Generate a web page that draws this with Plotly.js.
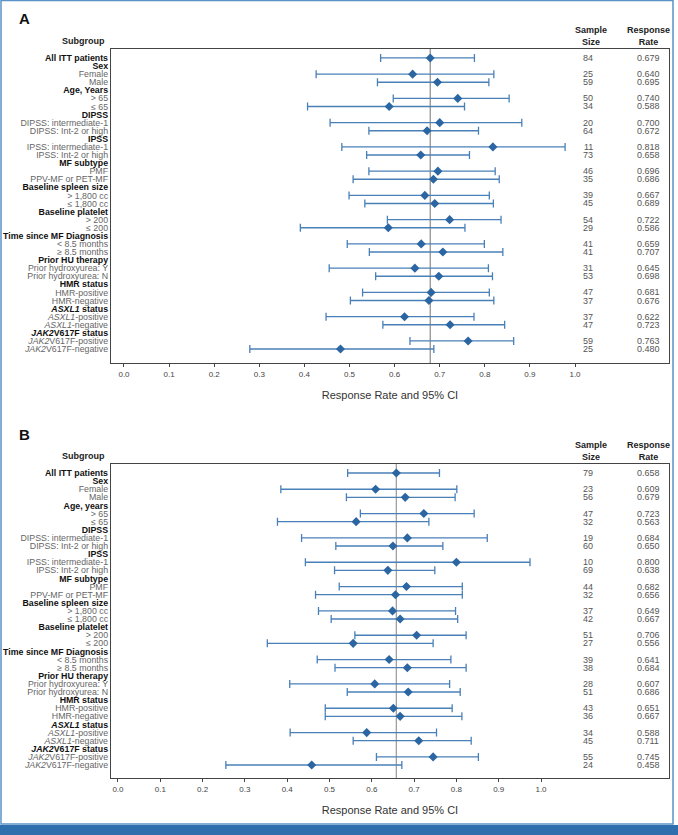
<!DOCTYPE html>
<html>
<head>
<meta charset="utf-8">
<script src="https://cdn.plot.ly/plotly-3.0.1.min.js"></script>
<style>html,body{margin:0;padding:0;background:#fff;}#chart{width:678px;height:835px;}</style>
</head>
<body>
<div id="chart"></div>
<script>
// ---- Data ----
const labelsA = ["All ITT patients","Sex","Female","Male","Age, Years","> 65","≤ 65","DIPSS","DIPSS: intermediate-1","DIPSS: Int-2 or high","IPSS","IPSS: intermediate-1","IPSS: Int-2 or high","MF subtype","PMF","PPV-MF or PET-MF","Baseline spleen size","> 1,800 cc","≤ 1,800 cc","Baseline platelet","> 200","≤ 200","Time since MF Diagnosis","< 8.5 months","≥ 8.5 months","Prior HU therapy","Prior hydroxyurea: Y","Prior hydroxyurea: N","HMR status","HMR-positive","HMR-negative","<i>ASXL1</i> status","<i>ASXL1</i>-positive","<i>ASXL1</i>-negative","<i>JAK2</i>V617F status","<i>JAK2</i>V617F-positive","<i>JAK2</i>V617F-negative"];
const labelsB = ["All ITT patients","Sex","Female","Male","Age, years","> 65","≤ 65","DIPSS","DIPSS: intermediate-1","DIPSS: Int-2 or high","IPSS","IPSS: intermediate-1","IPSS: Int-2 or high","MF subtype","PMF","PPV-MF or PET-MF","Baseline spleen size","> 1,800 cc","≤ 1,800 cc","Baseline platelet","> 200","≤ 200","Time since MF Diagnosis","< 8.5 months","≥ 8.5 months","Prior HU therapy","Prior hydroxyurea: Y","Prior hydroxyurea: N","HMR status","HMR-positive","HMR-negative","<i>ASXL1</i> status","<i>ASXL1</i>-positive","<i>ASXL1</i>-negative","<i>JAK2</i>V617F status","<i>JAK2</i>V617F-positive","<i>JAK2</i>V617F-negative"];
const isHeader = [1,1,0,0,1,0,0,1,0,0,1,0,0,1,0,0,1,0,0,1,0,0,1,0,0,1,0,0,1,0,0,1,0,0,1,0,0];

const rateA  = [0.679,null,0.640,0.695,null,0.740,0.588,null,0.700,0.672,null,0.818,0.658,null,0.696,0.686,null,0.667,0.689,null,0.722,0.586,null,0.659,0.707,null,0.645,0.698,null,0.681,0.676,null,0.622,0.723,null,0.763,0.480];
const nA     = [84,null,25,59,null,50,34,null,20,64,null,11,73,null,46,35,null,39,45,null,54,29,null,41,41,null,31,53,null,47,37,null,37,47,null,59,25];
const lowerA = [0.569,null,0.426,0.562,null,0.597,0.407,null,0.457,0.543,null,0.483,0.538,null,0.543,0.508,null,0.499,0.534,null,0.584,0.391,null,0.495,0.544,null,0.455,0.558,null,0.529,0.502,null,0.448,0.574,null,0.634,0.279];
const upperA = [0.777,null,0.820,0.809,null,0.854,0.755,null,0.882,0.786,null,0.978,0.766,null,0.823,0.832,null,0.810,0.819,null,0.836,0.756,null,0.799,0.840,null,0.808,0.817,null,0.810,0.820,null,0.776,0.844,null,0.864,0.687];

const rateB  = [0.658,null,0.609,0.679,null,0.723,0.563,null,0.684,0.650,null,0.800,0.638,null,0.682,0.656,null,0.649,0.667,null,0.706,0.556,null,0.641,0.684,null,0.607,0.686,null,0.651,0.667,null,0.588,0.711,null,0.745,0.458];
const nB     = [79,null,23,56,null,47,32,null,19,60,null,10,69,null,44,32,null,37,42,null,51,27,null,39,38,null,28,51,null,43,36,null,34,45,null,55,24];
const lowerB = [0.543,null,0.385,0.540,null,0.573,0.377,null,0.434,0.515,null,0.443,0.512,null,0.523,0.467,null,0.474,0.504,null,0.560,0.353,null,0.471,0.513,null,0.406,0.542,null,0.490,0.490,null,0.407,0.556,null,0.611,0.255];
const upperB = [0.760,null,0.801,0.797,null,0.842,0.735,null,0.873,0.768,null,0.974,0.749,null,0.814,0.814,null,0.798,0.803,null,0.823,0.745,null,0.787,0.823,null,0.784,0.809,null,0.790,0.813,null,0.753,0.835,null,0.852,0.671];

const xTicks = [0,0.1,0.2,0.3,0.4,0.5,0.6,0.7,0.8,0.9,1.0];
const xTickText = ["0.0","0.1","0.2","0.3","0.4","0.5","0.6","0.7","0.8","0.9","1.0"];

// ---- Build ----
const W = 678, H = 835;
const FONT = "Liberation Sans, Arial, sans-serif";
const px = v => v / W;
const py = v => 1 - v / H;

function tickLabels(labels) {
  return labels.map((l, i) => {
    if (i === 0 || isHeader[i]) return '<b>' + l + '</b>';
    return '<span style="color:#666">' + l + '</span>';
  });
}

function makeTrace(rate, lower, upper, xa, ya) {
  const x = [], y = [], ep = [], em = [];
  rate.forEach((r, i) => {
    if (r === null) return;
    x.push(r); y.push(i);
    ep.push(upper[i] - r); em.push(r - lower[i]);
  });
  return {
    type: 'scatter', mode: 'markers', x: x, y: y, xaxis: xa, yaxis: ya,
    marker: {symbol: 'diamond', size: 7, color: '#2b66a2'},
    error_x: {type: 'data', symmetric: false, array: ep, arrayminus: em,
              color: '#4a80b8', thickness: 1.3, width: 4},
    hoverinfo: 'skip', showlegend: false
  };
}

const idx = labelsA.map((_, i) => i);
const traces = [
  makeTrace(rateA, lowerA, upperA, 'x', 'y'),
  makeTrace(rateB, lowerB, upperB, 'x2', 'y2')
];

const xBase = {
  tickvals: xTicks, ticktext: xTickText, ticks: 'outside', ticklen: 3, tickcolor: '#444',
  tickfont: {size: 8, color: '#444', family: FONT},
  showgrid: false, zeroline: false, showline: true, mirror: true, linecolor: '#444', linewidth: 1.2,
  fixedrange: true
};
const yBase = {
  tickvals: idx, showgrid: false, zeroline: false, showline: true, mirror: true,
  linecolor: '#444', linewidth: 1.2, ticks: '', tickfont: {size: 8.8, color: '#111', family: FONT},
  fixedrange: true
};

const annotations = [];
function panelAnn(letter, letterY, headerY, nArr, rateArr, yref) {
  annotations.push({xref: 'paper', yref: 'paper', x: px(17), y: py(letterY), xanchor: 'left', yanchor: 'middle',
    text: '<b>' + letter + '</b>', showarrow: false, font: {size: 15, color: '#111', family: FONT}});
  annotations.push({xref: 'paper', yref: 'paper', x: px(107), y: py(headerY), xanchor: 'right', yanchor: 'middle',
    text: '<b>Subgroup</b>', showarrow: false, font: {size: 9, color: '#222', family: FONT}});
  annotations.push({xref: 'paper', yref: 'paper', x: px(591), y: py(headerY - 5), xanchor: 'center', yanchor: 'middle',
    text: '<b>Sample<br>Size</b>', showarrow: false, font: {size: 9, color: '#222', family: FONT}});
  annotations.push({xref: 'paper', yref: 'paper', x: px(648), y: py(headerY - 5), xanchor: 'center', yanchor: 'middle',
    text: '<b>Response<br>Rate</b>', showarrow: false, font: {size: 9, color: '#222', family: FONT}});
  nArr.forEach((n, i) => {
    if (n === null) return;
    annotations.push({xref: 'paper', yref: yref, x: px(588), y: i, xanchor: 'center', yanchor: 'middle',
      text: String(n), showarrow: false, font: {size: 9, color: '#555', family: FONT}});
    annotations.push({xref: 'paper', yref: yref, x: px(648), y: i, xanchor: 'center', yanchor: 'middle',
      text: rateArr[i].toFixed(3), showarrow: false, font: {size: 9, color: '#555', family: FONT}});
  });
}
panelAnn('A', 18, 41, nA, rateA, 'y');
panelAnn('B', 434, 456, nB, rateB, 'y2');

const layout = {
  width: W, height: H, margin: {l: 0, r: 0, t: 0, b: 0}, paper_bgcolor: '#fff', plot_bgcolor: '#fff',
  font: {family: FONT},
  showlegend: false,
  xaxis: Object.assign({}, xBase, {domain: [px(111), px(669)], anchor: 'y', range: [-0.0288, 1.2084],
    title: {text: 'Response Rate and 95% CI', font: {size: 11, color: '#333', family: FONT}, standoff: 13}}),
  yaxis: Object.assign({}, yBase, {domain: [py(363), py(49)], anchor: 'x', range: [37.73, -1.11],
    ticktext: tickLabels(labelsA)}),
  xaxis2: Object.assign({}, xBase, {domain: [px(111), px(669)], anchor: 'y2', range: [-0.0165, 1.3026],
    title: {text: 'Response Rate and 95% CI', font: {size: 11, color: '#333', family: FONT}, standoff: 13}}),
  yaxis2: Object.assign({}, yBase, {domain: [py(778), py(464)], anchor: 'x2', range: [37.6, -1.11],
    ticktext: tickLabels(labelsB)}),
  shapes: [
    {type: 'line', xref: 'x', yref: 'y domain', x0: rateA[0], x1: rateA[0], y0: 0, y1: 1,
     line: {color: '#888', width: 1.2}, layer: 'below'},
    {type: 'line', xref: 'x2', yref: 'y2 domain', x0: rateB[0], x1: rateB[0], y0: 0, y1: 1,
     line: {color: '#999', width: 1.2}, layer: 'below'},
    {type: 'rect', xref: 'paper', yref: 'paper', x0: px(1), x1: px(673), y0: py(824), y1: py(0.5),
     line: {color: '#5b93c8', width: 1.5}, fillcolor: 'rgba(0,0,0,0)'},
    {type: 'rect', xref: 'paper', yref: 'paper', x0: 0, x1: 1, y0: 0, y1: py(825),
     line: {width: 0}, fillcolor: '#2f6fae'}
  ],
  annotations: annotations
};

Plotly.newPlot('chart', traces, layout, {displayModeBar: false, staticPlot: true});
</script>
</body>
</html>
